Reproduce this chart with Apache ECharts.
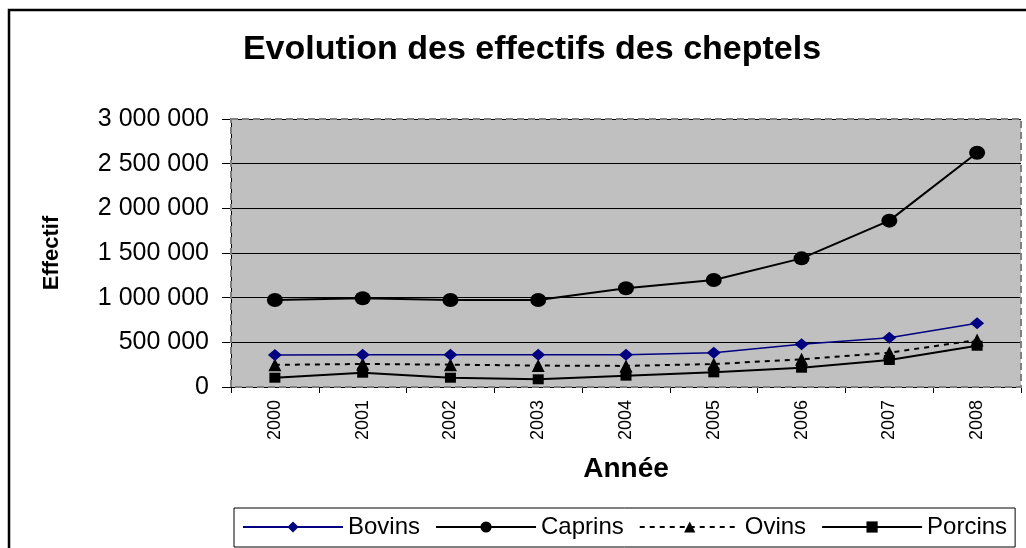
<!DOCTYPE html>
<html><head><meta charset="utf-8">
<script src="https://cdn.jsdelivr.net/npm/echarts@6/dist/echarts.min.js"></script>
<style>html,body{margin:0;padding:0;background:#fff}#c{width:1026px;height:548px}</style>
</head><body><div id="c"></div>
<script>
const years = ['2000','2001','2002','2003','2004','2005','2006','2007','2008'];
const bovins  = [358000, 360000, 360000, 360000, 360000, 384000, 478000, 552000, 713000];
const caprins = [974000, 993000, 974000, 974000, 1105000, 1198000, 1440000, 1862000, 2623000];
const ovins   = [248000, 258000, 250000, 240000, 236000, 257000, 310000, 384000, 526000];
const porcins = [104000, 160000, 104000, 86000, 127000, 164000, 216000, 302000, 462000];
const seriesNames = ['Bovins','Caprins','Ovins','Porcins'];
const yMin = 0, yMax = 3000000, yStep = 500000;

const FONT = '"Liberation Sans", Arial, sans-serif';
const fmt = v => String(v).replace(/\B(?=(\d{3})+(?!\d))/g, ' ');

const chart = echarts.init(document.getElementById('c'), null, {renderer: 'canvas'});
const G = {left: 231, right: 5, top: 119, bottom: 161};
chart.setOption({
  animation: false,
  backgroundColor: '#fff',
  textStyle: {fontFamily: FONT},
  title: {
    text: 'Evolution des effectifs des cheptels',
    left: 527, top: 28, textAlign: 'center',
    textStyle: {fontSize: 34, fontWeight: 'bold', color: '#000', fontFamily: FONT}
  },
  grid: {left: G.left, right: G.right, top: G.top, bottom: G.bottom, show: true,
         backgroundColor: '#C0C0C0', borderWidth: 0},
  graphic: [
    {type: 'rect', z: 100, silent: true,
     shape: {x: 9, y: 10, width: 1030, height: 560},
     style: {fill: 'none', stroke: '#000', lineWidth: 2.5}},
    {type: 'rect', z: 50, silent: true,
     shape: {x: G.left, y: G.top, width: 1026 - G.left - G.right, height: 548 - G.top - G.bottom},
     style: {fill: 'none', stroke: '#7f7f7f', lineWidth: 2, lineDash: [7, 4]}}
  ],
  legend: {
    data: seriesNames,
    left: 234, top: 508,
    itemWidth: 100, itemHeight: 14, itemGap: 15,
    padding: [7, 8, 8, 8],
    borderColor: '#000', borderWidth: 1,
    textStyle: {fontSize: 24, color: '#000', fontFamily: FONT}
  },
  xAxis: {
    type: 'category', data: years, boundaryGap: true,
    name: 'Année', nameLocation: 'middle', nameGap: 68,
    nameTextStyle: {fontSize: 28, fontWeight: 'bold', color: '#000', fontFamily: FONT},
    axisLine: {lineStyle: {color: '#000', width: 1}},
    axisTick: {show: true, alignWithLabel: false, length: 6, lineStyle: {color: '#000'}},
    axisLabel: {rotate: 90, margin: 13, fontSize: 18, color: '#000', fontFamily: FONT},
    splitLine: {show: false}
  },
  yAxis: {
    type: 'value', min: yMin, max: yMax, interval: yStep,
    name: 'Effectif', nameLocation: 'middle', nameGap: 168, nameRotate: 90,
    nameTextStyle: {fontSize: 22, fontWeight: 'bold', color: '#000', fontFamily: FONT},
    axisLine: {show: true, lineStyle: {color: '#000', width: 1}},
    axisTick: {show: true, length: 9, lineStyle: {color: '#000'}},
    axisLabel: {margin: 22, fontSize: 25, color: '#000', fontFamily: FONT, formatter: fmt},
    splitLine: {show: true, lineStyle: {color: '#000', width: 1}}
  },
  series: [
    {name: 'Bovins', type: 'line', data: bovins, symbol: 'diamond', symbolSize: [14, 12],
     itemStyle: {color: '#000080'}, lineStyle: {color: '#000080', width: 1.5}, z: 3},
    {name: 'Caprins', type: 'line', data: caprins, symbol: 'circle', symbolSize: [16, 14],
     itemStyle: {color: '#000'}, lineStyle: {color: '#000', width: 2}, z: 3},
    {name: 'Ovins', type: 'line', data: ovins, symbol: 'triangle', symbolSize: [13, 13],
     itemStyle: {color: '#000'}, lineStyle: {color: '#000', width: 2, type: [5, 5]}, z: 2},
    {name: 'Porcins', type: 'line', data: porcins, symbol: 'rect', symbolSize: [11, 10],
     itemStyle: {color: '#000'}, lineStyle: {color: '#000', width: 2}, z: 2}
  ]
});
</script>
</body></html>
